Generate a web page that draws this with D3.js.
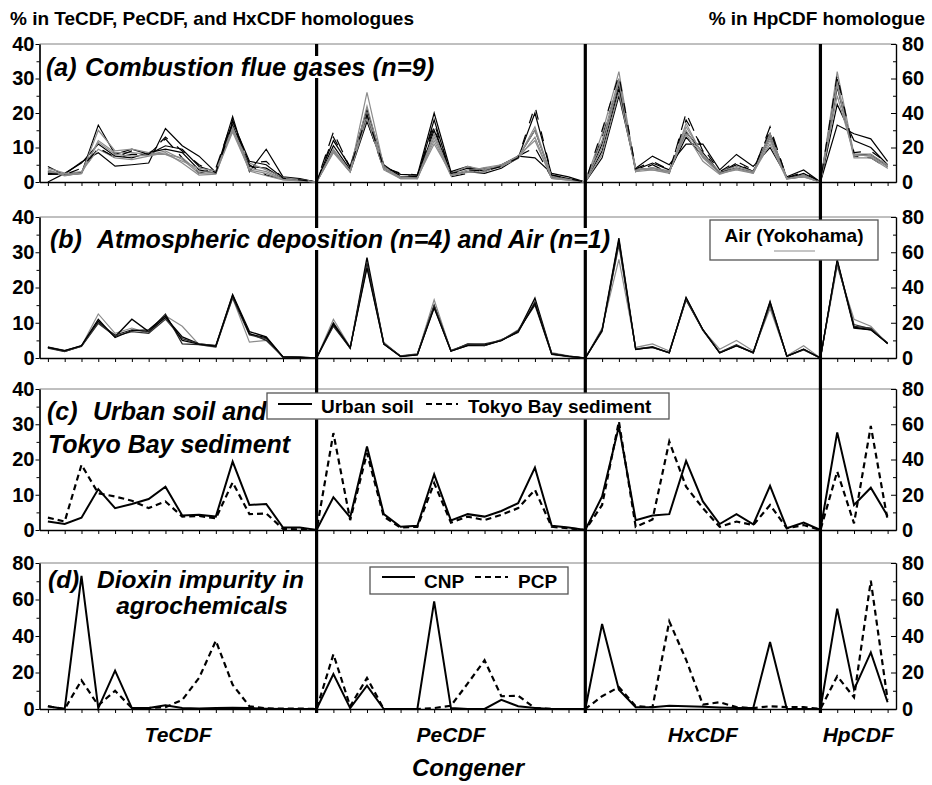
<!DOCTYPE html>
<html>
<head>
<meta charset="utf-8">
<title>PCDF congener profiles</title>
<style>
  body { margin: 0; background: #fff; }
  svg text { font-family: "Liberation Sans", Arial, sans-serif; font-weight: bold; fill: #000; }
</style>
</head>
<body>
<div id="vis"></div>
<script src="https://d3js.org/d3.v7.min.js"></script>
<script>
// congener slots per homologue; a zero slot sits between two homologues
const groups = ["TeCDF", "PeCDF", "HxCDF", "HpCDF"];
const groupSizes = [16, 15, 13, 4];

// (a) combustion flue gases, n=9  (Te | Pe | Hx in %, Hp in % of HpCDF)
const flue1 = [2.2,2.3,5.8,8.5,4.6,5.0,5.5,15.5,10.5,7.5,2.8,19.0,3.0,9.5,1.5,1.0,0, 9,3,17.5,4.5,2.2,2,20,3,4.5,3,5,7.5,7,2.5,1.5,0, 7,25,4,7.5,5,11,11,3.5,8,4.5,10,1.5,3.5,0, 33,28,25,12];
const flue2 = [4.5,2.0,2.5,16.5,8.0,9.5,8.0,10.5,9.5,4.5,3.0,17.5,6.0,5.0,1.2,0.8,0, 12,4.5,21,5,1.5,1.5,18,2,3,2.5,4,7,20,2,1,0, 9,27,3.5,5.5,3.5,14.5,8.5,2.5,5,3,13,1,2.5,0, 45,24,20,10];
const flue3 = [0.0,2.5,5.5,11.0,7.5,7.0,8.5,9.5,8.5,3.5,2.5,16.5,4.5,4.0,1.0,0.6,0, 10.5,3.5,19,4,1.2,1.2,15,2.5,4,3.5,4.5,7.2,15,1.5,0.8,0, 11,28,3.5,4,3,13,7.5,2.8,4,2.8,14,1.2,2,0, 55,16,16,9];
const flue4 = [3.0,2.2,2.8,10.0,7.0,8.0,8.0,12.5,7.0,2.5,4.0,18.0,5.0,2.0,0.8,0.5,0, 14.5,4,18,3.5,2,1.5,16,1.5,2.5,4,4.8,7.5,10,1.2,0.8,0, 13,29,3,5,2.5,20,9,2.5,5.5,3,16,1,1.5,0, 60,15,14,8];
const flue5 = [4.0,2.6,2.5,15.0,9.0,9.5,8.5,8.0,6.0,4.0,3.2,15.0,5.5,3.5,1.3,0.7,0, 9,3,26,4.5,1.2,1.3,11,2.5,4.5,3.5,5,7.2,15,1.5,0.8,0, 14,32,3,3.5,2.5,17,7.5,2.5,4,2.5,14,1.2,1.5,0, 64,16,15,9];
const flue6 = [3.5,2.0,2.4,12.0,8.5,8.5,8.0,8.0,7.0,3.0,2.8,16.0,4.0,3.0,0.9,0.4,0, 8.5,2.8,22,4,1,1,13,2,3.5,4,4.5,7,16,1.2,0.6,0, 12,30,3.5,4,3,16,8,3,4.5,3,13,1,2,0, 58,15,16,10];
const flue7 = [3.2,1.8,2.6,11.5,8.0,7.5,7.8,9.0,6.5,2.5,2.6,14.5,3.5,2.5,0.7,0.3,0, 9.5,3.2,20,3.8,1.5,1,12,1.8,3,4.2,5,7.5,12,1,0.5,0, 10,29,4,3.5,2.8,15,7,2.5,3.5,2.5,12,1,1.5,0, 56,14,14,8];
const flue8 = [2.8,2.4,3.0,9.5,7.0,6.5,7.5,8.5,5.5,2.0,2.3,15.5,3.2,1.8,0.6,0.3,0, 8.8,3,18.5,3.5,1,1,14,2,2.8,3,4.6,6.8,13,1,0.5,0, 8,26,3.2,4.2,3.2,14,6,2.2,3.8,2.8,11,0.8,1.8,0, 50,16,15,9];
const flue9 = [2.5,2.1,4.0,9.8,7.2,9.0,8.0,13.0,9.0,5.0,2.7,17.0,5.5,6.0,1.1,0.6,0, 13,4,19.5,4.2,2.5,2,17,2.5,3.5,3.2,4.5,7,22,2,1,0, 15,31,3.8,6,3.5,18,10,3,6,3.5,15,1.3,2.8,0, 62,17,18,11];

// (b) atmospheric deposition, n=4, and air
const depo1 = [3.1,2.0,3.4,10.5,6.0,11,7.5,11.5,6,4,3.5,18,7.5,6,0.3,0.2,0, 9.5,2.8,28.5,4,0.5,1,14.5,2,3.5,3.5,5,7.5,17,1.2,0.5,0, 8,34,2.5,3,1.5,17,8,1.5,3.5,1.5,16,0.5,2.5,0, 55,17,16,8.5];
const depo2 = [2.8,1.8,3.4,10.0,6.5,8,7.5,12.5,4,3.8,3.2,17.5,7,5,0.3,0.2,0, 9,2.8,27,4.2,0.5,1,15,2,4,4,5,7.8,15,1,0.4,0, 7.5,33,2.5,3.2,1.5,16.5,8,1.6,3.8,1.5,15.5,0.5,2.3,0, 54,18,17,8];
const depo3 = [2.9,1.9,3.3,9.8,6.2,7.5,7,11,5.5,4,3.5,17,6.5,5.5,0.2,0.1,0, 10,3,26,4,0.6,1.2,14.8,2.2,3.8,3.6,5.2,7.2,16,1.3,0.5,0, 8,32,2.6,3,1.4,16.8,7.8,1.5,3.6,1.4,15,0.5,2.4,0, 55,19,16.5,8.5];
const depo4 = [3.0,2.1,3.5,11,5.8,7.8,8,12,5,3.9,3.4,17.8,6.8,5.8,0.3,0.2,0, 9.8,2.9,25.5,3.9,0.4,0.9,14.2,1.9,3.6,3.7,4.9,7.4,15.5,1.1,0.5,0, 7.8,33.5,2.4,3.1,1.5,17.2,8.1,1.4,3.4,1.6,15.8,0.5,2.5,0, 56,17.5,16,8.2];
const airYokohama = [3.2,2.2,3.4,12.5,7,8.5,7,12,9,3.8,3,17,4.5,5,0.4,0.3,0, 11,3,27,4.5,0.5,1,16.5,2,4,3.5,5,8,15.5,1.5,0.6,0, 8.5,28,3,4,2,16.5,8,2.5,5,2,14,0.6,3.5,0, 52,22,18,8];

// (c) urban soil and Tokyo Bay sediment
const urbanSoil = [2.4,1.7,3.5,11.6,6.2,7.4,8.8,12.3,4.1,4.3,3.8,19.4,7.1,7.4,0.7,0.7,0, 9.3,3.6,23.7,4.5,0.9,1.2,15.8,2.7,4.5,3.8,5.4,7.6,17.7,1.2,0.7,0, 9.5,29.4,2.8,4.1,4.5,19.6,8.1,1.7,4.5,1.6,12.5,0.5,2.1,0, 55.4,14.2,24,8];
const baySediment = [3.5,2.4,18.5,10.4,9.5,8.3,6.2,8.1,3.8,4,3.3,13.5,4.5,4.7,0.3,0.2,0, 27.5,2.8,21.8,3.8,0.7,0.9,13.3,2.1,3.8,2.8,4.3,6.2,11.4,0.9,0.5,0, 7.1,30.8,0.9,3,25.1,12.3,6.2,0.9,2.4,1.4,7.1,0.5,1.4,0, 33.2,3.8,59,5.7];

// (d) dioxin impurity in agrochemicals
const cnp = [1.5,0,73,0.5,21,0.5,0.5,2,0.5,0.3,0.5,0.7,0.5,0.2,0,0,0, 19.2,0.5,12.8,0,0,0,59,0.5,0,0,5,1.5,0.5,0,0,0, 46.6,10.6,1,1,1.8,1.5,1.3,0.8,0.5,0.5,36.7,0,0,0, 55,10.6,31,3.7];
const pcp = [1.5,0,15.7,2,10,0.5,0.5,1,5,17,37.4,13.3,1.5,0.3,0.2,0.2,0, 30,1.5,17,0,0,0,0.5,1.8,14,26.7,7,7.3,0.5,0,0,0, 7,12,1.5,1,48,27,2.4,3.7,1,0.5,1.5,1,1,0, 18,6.4,70.3,5.1];

const W = 932, H = 785;
const svg = d3.select("#vis").append("svg").attr("width", W).attr("height", H);

// slot bookkeeping
const seps = [];
let k = 0;
groupSizes.forEach(function(n, g) {
  k += n;
  if (g < groupSizes.length - 1) { seps.push(k); k += 1; }
});
const nSlots = k;                         // 51
const hpStart = seps[seps.length - 1] + 1; // HpCDF is read on the right axis

const x = d3.scaleLinear().domain([-0.5, nSlots - 0.5]).range([39.5, 896]);

const grey = "#8c8c8c";
const panels = [
  { top: 44, zero: 182, leftMax: 40,
    series: [
      { v: flue1, c: "#000", w: 1.2 }, { v: flue2, c: "#000", w: 1.2 },
      { v: flue3, c: "#000", w: 1.2 }, { v: flue4, c: "#000", w: 1.2, dash: "14,9" },
      { v: flue5, c: grey, w: 1.2 }, { v: flue6, c: grey, w: 1.2 },
      { v: flue7, c: grey, w: 1.2 }, { v: flue8, c: grey, w: 1.2 },
      { v: flue9, c: "#000", w: 1.2, dash: "10,12" }
    ] },
  { top: 217, zero: 358, leftMax: 40,
    series: [
      { v: airYokohama, c: grey, w: 1.2 },
      { v: depo1, c: "#000", w: 1.4 }, { v: depo2, c: "#222", w: 1.2 },
      { v: depo3, c: "#333", w: 1.2 }, { v: depo4, c: "#000", w: 1.2 }
    ] },
  { top: 389, zero: 530, leftMax: 40,
    series: [
      { v: baySediment, c: "#000", w: 2.2, dash: "6,4" },
      { v: urbanSoil, c: "#000", w: 2 }
    ] },
  { top: 563, zero: 709, leftMax: 80,
    series: [
      { v: pcp, c: "#000", w: 2.2, dash: "6,4" },
      { v: cnp, c: "#000", w: 2 }
    ] }
];

function styleTicks(sel) {
  sel.select(".domain").attr("stroke", "#000").attr("stroke-width", 1.2);
  sel.selectAll(".tick line").attr("stroke", "#000");
  sel.selectAll("text").style("font", "bold 20px 'Liberation Sans', Arial, sans-serif");
}

const layers = panels.map(function() { return svg.append("g"); });
const sepLayer = svg.append("g");
const titleLayer = svg.append("g");

panels.forEach(function(p, pi) {
  const yL = d3.scaleLinear().domain([0, p.leftMax]).range([p.zero, p.top]);
  const yR = d3.scaleLinear().domain([0, 80]).range([p.zero, p.top]);
  const g = layers[pi];

  // top frame line
  g.append("line").attr("x1", x.range()[0]).attr("x2", x.range()[1])
    .attr("y1", p.top).attr("y2", p.top).attr("stroke", "#808080").attr("stroke-width", 1);

  const lStep = p.leftMax / 4;
  g.append("g").attr("transform", "translate(" + x.range()[0] + ",0)")
    .call(d3.axisLeft(yL).tickValues(d3.range(lStep / 2, p.leftMax, lStep)).tickSize(3).tickFormat("").tickSizeOuter(0))
    .call(styleTicks);
  g.append("g").attr("transform", "translate(" + x.range()[0] + ",0)")
    .call(d3.axisLeft(yL).tickValues(d3.range(0, p.leftMax + 1, lStep)).tickSizeInner(4).tickSizeOuter(0).tickPadding(1))
    .call(styleTicks);

  g.append("g").attr("transform", "translate(" + x.range()[1] + ",0)")
    .call(d3.axisRight(yR).tickValues([10, 30, 50, 70]).tickSizeInner(-3).tickFormat("").tickSizeOuter(0))
    .call(styleTicks);
  g.append("g").attr("transform", "translate(" + x.range()[1] + ",0)")
    .call(d3.axisRight(yR).tickValues([0, 20, 40, 60, 80]).tickSizeInner(-5).tickSizeOuter(0).tickPadding(6))
    .call(styleTicks);

  g.append("g").attr("transform", "translate(0," + p.zero + ")")
    .call(d3.axisBottom(x).tickValues(d3.range(nSlots)).tickSize(4).tickSizeOuter(0).tickFormat(""))
    .call(styleTicks)
    .call(function(a) { a.select(".domain").attr("stroke-width", 1.6); });

  const line = d3.line()
    .x(function(d, i) { return x(i); })
    .y(function(d, i) { return i >= hpStart ? yR(d) : yL(d); });

  p.series.forEach(function(s) {
    g.append("path").attr("d", line(s.v)).attr("fill", "none")
      .attr("stroke", s.c).attr("stroke-width", s.w)
      .attr("stroke-dasharray", s.dash || null)
      .attr("stroke-linejoin", "miter");
  });
});

// thick homologue boundaries running through all panels
sepLayer.selectAll("line").data(seps).join("line")
  .attr("x1", function(d) { return x(d); }).attr("x2", function(d) { return x(d); })
  .attr("y1", panels[0].top).attr("y2", panels[3].zero + 4)
  .attr("stroke", "#000").attr("stroke-width", 3.2);

// header texts
svg.append("text").attr("x", 10).attr("y", 25).style("font-size", "19px")
  .text("% in TeCDF, PeCDF, and HxCDF homologues");
svg.append("text").attr("x", 925).attr("y", 25).attr("text-anchor", "end").style("font-size", "19px")
  .text("% in HpCDF homologue");

// panel titles; (a) and (b) sit on white boxes that break the boundary lines
function title(parts, boxed, size) {
  const g = titleLayer.append("g");
  const bg = g.append("rect").attr("fill", "#fff");
  parts.forEach(function(t) {
    g.append("text").attr("x", t[0]).attr("y", t[1]).attr("text-anchor", t[3] || "start")
      .style("font-size", (t[4] || size) + "px").style("font-style", "italic").text(t[2]);
  });
  if (boxed) {
    const b = g.node().getBBox();
    bg.attr("x", b.x - 1).attr("y", b.y + 3).attr("width", b.width + 3).attr("height", b.height - 6);
  } else {
    bg.remove();
  }
}
title([[46, 76, "(a)", "start", 25], [85, 76, "Combustion flue gases (n=9)"]], true, 25.5);
title([[50, 248, "(b)"], [97, 248, "Atmospheric deposition (n=4) and Air (n=1)"]], true, 25);
title([[47, 420, "(c)"], [93, 420, "Urban soil and"], [48, 453, "Tokyo Bay sediment"]], false, 25);
title([[48, 588, "(d)"], [97, 588, "Dioxin impurity in"], [202, 614, "agrochemicals", "middle"]], false, 24.5);

// legends
function legendBox(x0, y0, w, h) {
  svg.append("rect").attr("x", x0).attr("y", y0).attr("width", w).attr("height", h)
    .attr("fill", "#fff").attr("stroke", "#555").attr("stroke-width", 1.3);
}
function sample(x1, x2, y, s) {
  svg.append("line").attr("x1", x1).attr("x2", x2).attr("y1", y).attr("y2", y)
    .attr("stroke", s.c).attr("stroke-width", s.w).attr("stroke-dasharray", s.dash || null);
}
function label(x0, y0, t, anchor) {
  svg.append("text").attr("x", x0).attr("y", y0).attr("text-anchor", anchor || "start")
    .style("font-size", "19px").text(t);
}

legendBox(710, 220, 168, 40);
label(794, 242, "Air (Yokohama)", "middle");
sample(774, 815, 251, { c: grey, w: 1.2 });

legendBox(267, 393, 402, 26);
sample(278, 312, 404, panels[2].series[1]);
label(321, 413, "Urban soil");
sample(426, 458, 404, panels[2].series[0]);
label(468, 413, "Tokyo Bay sediment");

legendBox(370, 567, 198, 27);
sample(382, 415, 577, panels[3].series[1]);
label(424, 588, "CNP");
sample(475, 508, 577, panels[3].series[0]);
label(518, 588, "PCP");

// homologue names under the last panel
const edges = [x.domain()[0]].concat(seps, [x.domain()[1]]);
groups.forEach(function(name, i) {
  svg.append("text").attr("x", x((edges[i] + edges[i + 1]) / 2)).attr("y", 742)
    .attr("text-anchor", "middle").style("font-size", "21px").style("font-style", "italic").text(name);
});
svg.append("text").attr("x", 468).attr("y", 776).attr("text-anchor", "middle")
  .style("font-size", "24px").style("font-style", "italic").text("Congener");
</script>
</body>
</html>
